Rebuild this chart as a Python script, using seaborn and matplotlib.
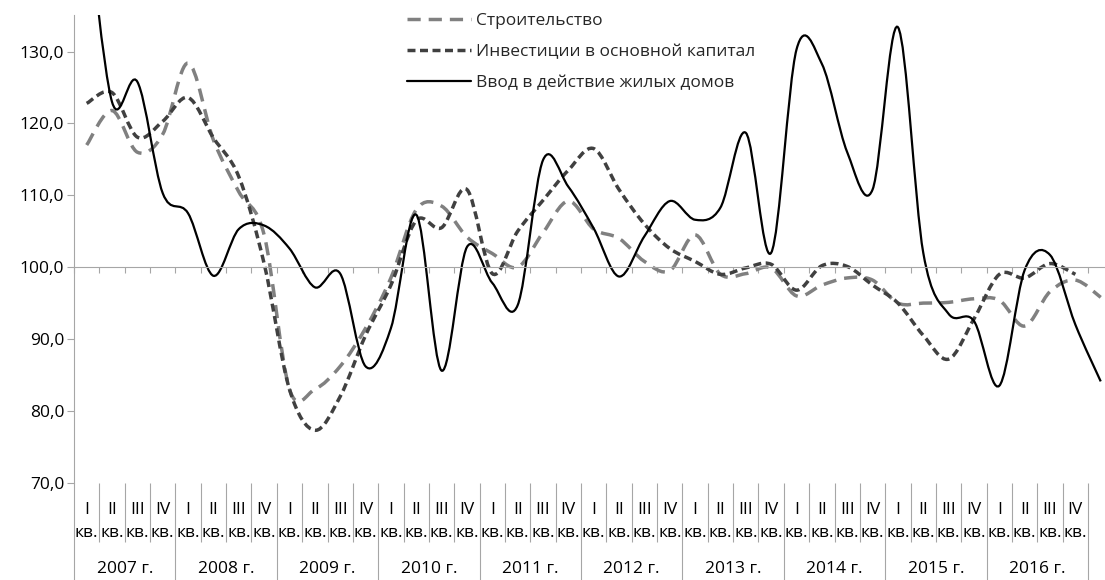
import numpy as np
import matplotlib
matplotlib.use("Agg")
import matplotlib.pyplot as plt
import seaborn as sns
from matplotlib.path import Path
from matplotlib.patches import PathPatch
from matplotlib.lines import Line2D

# --- data (quarterly indices, % to same quarter of previous year) ---
years = [2007, 2008, 2009, 2010, 2011, 2012, 2013, 2014, 2015, 2016]
quarters = ["I", "II", "III", "IV"]

stroit = [117.0, 121.8, 116.0, 118.5, 128.4, 117.7, 110.5, 104.5, 83.0, 83.0,
          86.2, 91.5, 98.5, 108.0, 108.5, 104.2, 101.9, 100.0, 104.8, 109.2,
          105.3, 104.0, 100.8, 99.5, 104.5, 99.0, 99.1, 99.9, 96.0, 97.5,
          98.5, 98.2, 95.0, 95.0, 95.1, 95.6, 95.4, 91.8, 96.6, 98.2, 95.8]
invest = [122.8, 124.3, 118.1, 120.3, 123.6, 118.0, 112.6, 100.5, 83.0, 77.3,
          82.0, 90.5, 97.5, 106.5, 105.5, 110.8, 99.1, 105.0, 109.3, 113.5,
          116.5, 110.8, 106.0, 102.6, 100.8, 99.0, 99.9, 100.4, 96.8, 100.2,
          100.1, 97.5, 95.0, 90.5, 87.2, 92.8, 99.0, 98.5, 100.5, 99.0, np.nan]
vvod = [150.0, 123.0, 125.8, 110.3, 107.5, 98.8, 105.3, 105.8, 102.6, 97.2,
        99.1, 86.2, 91.5, 107.3, 85.6, 102.8, 97.8, 94.7, 114.9, 111.2,
        105.4, 98.7, 104.3, 109.2, 106.6, 108.3, 118.7, 102.0, 130.3, 128.3,
        116.0, 110.8, 133.4, 102.0, 93.5, 92.5, 83.5, 99.6, 101.7, 92.0, 84.1]

series = [
    ("Строительство", stroit, "#808080", 2.5, (0, (3.8, 2.3))),
    ("Инвестиции в основной капитал", invest, "#404040", 2.5, (0, (2.3, 1.3))),
    ("Ввод в действие жилых домов", vvod, "#000000", 1.6, "-"),
]


def smooth_path(values):
    # Bezier curve through the points (like Excel's "smoothed line")
    pts = [(i, v) for i, v in enumerate(values) if not np.isnan(v)]
    pts = np.array(pts, dtype=float)
    verts = [pts[0]]
    codes = [Path.MOVETO]
    n = len(pts)
    for k in range(n - 1):
        p0 = pts[k - 1] if k > 0 else pts[k]
        p1, p2 = pts[k], pts[k + 1]
        p3 = pts[k + 2] if k + 2 < n else pts[k + 1]
        verts += [p1 + (p2 - p0) / 6, p2 - (p3 - p1) / 6, p2]
        codes += [Path.CURVE4] * 3
    return Path(verts, codes)


sns.set_theme(style="white")
plt.rcParams["font.family"] = ["Open Sans", "DejaVu Sans"]

W, H = 1105, 580
fig = plt.figure(figsize=(W / 100, H / 100), dpi=100)
y70, ytop = 482.7, 15.0
ax = fig.add_axes([74 / W, (H - y70) / H, 1039.4 / W, (y70 - ytop) / H])

n = len(vvod)
handles = []
for name, vals, color, lw, ls in series:
    patch = PathPatch(smooth_path(vals), fill=False, edgecolor=color,
                      linewidth=lw, linestyle=ls, capstyle="butt")
    ax.add_patch(patch)
    handles.append(Line2D([], [], color=color, lw=lw, linestyle=ls, label=name))

ax.set_xlim(-0.5, n - 0.5)
ax.set_ylim(70, 135.1)

gray = "#A6A6A6"
ax.set_yticks(range(70, 131, 10))
ax.set_yticklabels([f"{v:.1f}".replace(".", ",") for v in range(70, 131, 10)])
ax.tick_params(axis="y", left=True, length=5, width=0.8, color=gray, pad=2,
               labelsize=12.5, labelcolor="black")
ax.set_xticks(np.arange(-0.5, n, 1))
ax.set_xticklabels([])
ax.tick_params(axis="x", bottom=True, direction="out", length=4.5, width=0.8,
               color=gray)
for s in ["top", "right"]:
    ax.spines[s].set_visible(False)
ax.spines["left"].set_color(gray)
ax.spines["left"].set_linewidth(0.8)
ax.spines["bottom"].set_position(("data", 100))
ax.spines["bottom"].set_color(gray)
ax.spines["bottom"].set_linewidth(0.8)


def yfrac(py):
    return (y70 - py) / (y70 - ytop)


tr = ax.get_xaxis_transform()
for j, yr in enumerate(years):
    for q, ql in enumerate(quarters):
        i = 4 * j + q
        ax.text(i, yfrac(510), ql, transform=tr, ha="center", va="center",
                fontsize=12.5, color="black")
        ax.text(i, yfrac(533), "кв.", transform=tr, ha="center", va="center",
                fontsize=12.5, color="black")
    ax.text(4 * j + 1.5, yfrac(569), f"{yr} г.", transform=tr, ha="center",
            va="center", fontsize=12.5, color="black")

bounds = np.arange(0, 4 * len(years) + 1)
quarter_b = [b - 0.5 for b in bounds if b % 4 != 0]
year_b = [b - 0.5 for b in bounds if b % 4 == 0]
ax.vlines(quarter_b, yfrac(542), 0, transform=tr, colors=gray, lw=0.8, clip_on=False)
ax.vlines(year_b, yfrac(H), 0, transform=tr, colors=gray, lw=0.8, clip_on=False)

fig.legend(handles=handles, loc="upper left", bbox_to_anchor=(407 / W, 1 - 13 / H),
           frameon=False, fontsize=12.5, handlelength=3.7, handletextpad=0.25,
           labelspacing=0.85, borderpad=0, borderaxespad=0)

fig.savefig("out.png", dpi=100)
